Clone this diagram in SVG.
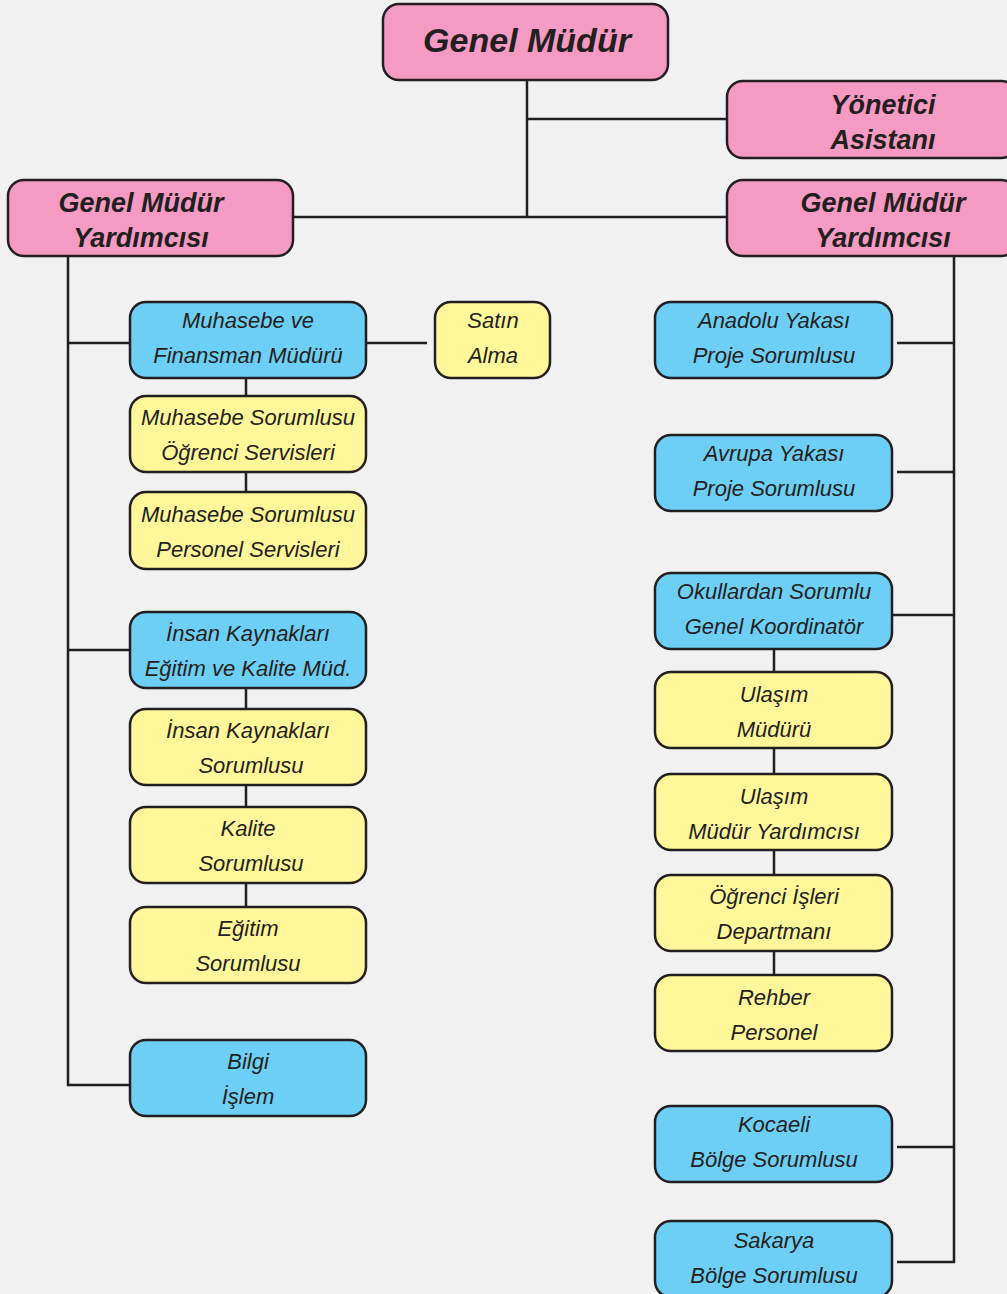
<svg xmlns="http://www.w3.org/2000/svg" width="1007" height="1294" viewBox="0 0 1007 1294">
<style>
.bg{fill:#f1f1f1}
.n rect{stroke:#231f20;stroke-width:2.5}
.p rect{fill:#f59ac2}
.b rect{fill:#6dcff6}
.y rect{fill:#fff799}
text{font-family:"Liberation Sans",Arial,sans-serif;font-style:italic;fill:#231f20;text-anchor:middle}
.h text{font-weight:bold;font-size:27px}
.t text{font-size:22px}
#conn line{stroke:#231f20;stroke-width:2.5}
</style>
<rect class="bg" x="0" y="0" width="1007" height="1294"/>
<g id="conn">
<line x1="527" y1="80" x2="527" y2="218"/>
<line x1="527" y1="119" x2="728" y2="119"/>
<line x1="293" y1="217" x2="728" y2="217"/>
<line x1="68" y1="256" x2="68" y2="1086"/>
<line x1="67" y1="343" x2="130" y2="343"/>
<line x1="366" y1="343" x2="427" y2="343"/>
<line x1="246" y1="378" x2="246" y2="396"/>
<line x1="246" y1="472" x2="246" y2="492"/>
<line x1="67" y1="650" x2="130" y2="650"/>
<line x1="246" y1="688" x2="246" y2="709"/>
<line x1="246" y1="785" x2="246" y2="807"/>
<line x1="246" y1="883" x2="246" y2="907"/>
<line x1="67" y1="1085" x2="130" y2="1085"/>
<line x1="954" y1="256" x2="954" y2="1263"/>
<line x1="897" y1="343" x2="955" y2="343"/>
<line x1="897" y1="472" x2="955" y2="472"/>
<line x1="892" y1="615" x2="955" y2="615"/>
<line x1="774" y1="649" x2="774" y2="672"/>
<line x1="774" y1="748" x2="774" y2="774"/>
<line x1="774" y1="850" x2="774" y2="875"/>
<line x1="774" y1="951" x2="774" y2="975"/>
<line x1="897" y1="1147" x2="955" y2="1147"/>
<line x1="897" y1="1262" x2="955" y2="1262"/>
</g>
<g id="genel-mudur" class="n p h"><rect x="383" y="4" width="285" height="76" rx="16"/><text x="527" y="52" style="font-size:34px">Genel Müdür</text></g>
<g id="yonetici-asistani" class="n p h"><rect x="727" y="81" width="290" height="77" rx="16"/><text x="883" y="114">Yönetici</text><text x="883" y="149">Asistanı</text></g>
<g id="gmy-sol" class="n p h"><rect x="8" y="180" width="285" height="76" rx="16"/><text x="141" y="212">Genel Müdür</text><text x="141" y="247">Yardımcısı</text></g>
<g id="gmy-sag" class="n p h"><rect x="727" y="180" width="290" height="76" rx="16"/><text x="883" y="212">Genel Müdür</text><text x="883" y="247">Yardımcısı</text></g>

<g id="muhasebe-finansman" class="n b t"><rect x="130" y="302" width="236" height="76" rx="16"/><text x="248" y="328">Muhasebe ve</text><text x="248" y="363">Finansman Müdürü</text></g>
<g id="satin-alma" class="n y t"><rect x="435" y="302" width="115" height="76" rx="16"/><text x="493" y="328">Satın</text><text x="493" y="363">Alma</text></g>
<g id="muhasebe-ogrenci" class="n y t"><rect x="130" y="396" width="236" height="76" rx="16"/><text x="248" y="425">Muhasebe Sorumlusu</text><text x="248" y="460">Öğrenci Servisleri</text></g>
<g id="muhasebe-personel" class="n y t"><rect x="130" y="492" width="236" height="77" rx="16"/><text x="248" y="522">Muhasebe Sorumlusu</text><text x="248" y="557">Personel Servisleri</text></g>
<g id="ik-egitim-kalite" class="n b t"><rect x="130" y="612" width="236" height="76" rx="16"/><text x="248" y="641">İnsan Kaynakları</text><text x="248" y="676">Eğitim ve Kalite Müd.</text></g>
<g id="ik-sorumlusu" class="n y t"><rect x="130" y="709" width="236" height="76" rx="16"/><text x="248" y="738">İnsan Kaynakları</text><text x="251" y="773">Sorumlusu</text></g>
<g id="kalite-sorumlusu" class="n y t"><rect x="130" y="807" width="236" height="76" rx="16"/><text x="248" y="836">Kalite</text><text x="251" y="871">Sorumlusu</text></g>
<g id="egitim-sorumlusu" class="n y t"><rect x="130" y="907" width="236" height="76" rx="16"/><text x="248" y="936">Eğitim</text><text x="248" y="971">Sorumlusu</text></g>
<g id="bilgi-islem" class="n b t"><rect x="130" y="1040" width="236" height="76" rx="16"/><text x="248" y="1069">Bilgi</text><text x="248" y="1104">İşlem</text></g>

<g id="anadolu-yakasi" class="n b t"><rect x="655" y="302" width="237" height="76" rx="16"/><text x="774" y="328">Anadolu Yakası</text><text x="774" y="363">Proje Sorumlusu</text></g>
<g id="avrupa-yakasi" class="n b t"><rect x="655" y="435" width="237" height="76" rx="16"/><text x="774" y="461">Avrupa Yakası</text><text x="774" y="496">Proje Sorumlusu</text></g>
<g id="okullar-koordinator" class="n b t"><rect x="655" y="573" width="237" height="76" rx="16"/><text x="774" y="599">Okullardan Sorumlu</text><text x="774" y="634">Genel Koordinatör</text></g>
<g id="ulasim-muduru" class="n y t"><rect x="655" y="672" width="237" height="76" rx="16"/><text x="774" y="702">Ulaşım</text><text x="774" y="737">Müdürü</text></g>
<g id="ulasim-mudur-yrd" class="n y t"><rect x="655" y="774" width="237" height="76" rx="16"/><text x="774" y="804">Ulaşım</text><text x="774" y="839">Müdür Yardımcısı</text></g>
<g id="ogrenci-isleri" class="n y t"><rect x="655" y="875" width="237" height="76" rx="16"/><text x="774" y="904">Öğrenci İşleri</text><text x="774" y="939">Departmanı</text></g>
<g id="rehber-personel" class="n y t"><rect x="655" y="975" width="237" height="76" rx="16"/><text x="774" y="1005">Rehber</text><text x="774" y="1040">Personel</text></g>
<g id="kocaeli" class="n b t"><rect x="655" y="1106" width="237" height="76" rx="16"/><text x="774" y="1132">Kocaeli</text><text x="774" y="1167">Bölge Sorumlusu</text></g>
<g id="sakarya" class="n b t"><rect x="655" y="1221" width="237" height="76" rx="16"/><text x="774" y="1248">Sakarya</text><text x="774" y="1283">Bölge Sorumlusu</text></g>
</svg>
